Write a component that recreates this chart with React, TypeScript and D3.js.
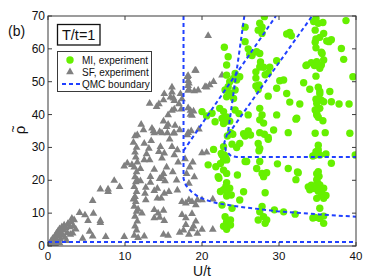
import * as d3 from 'd3';

// SF experiment points [U/t, rho]
const sfPoints: [number, number][] = [
  [0.2, 0.6], [0.4, 1.5], [0.5, 0.8], [0.6, 2.2], [0.8, 1.4], [0.9, 3], [1, 2.2], [1.1, 3.8], [1.2, 1.2],
  [1.3, 4.5], [1.4, 3], [1.5, 5.2], [1.6, 2], [1.7, 4], [1.8, 5.8], [1.9, 3.2], [2, 4.8], [2.1, 6.3],
  [2.2, 2.6], [2.3, 5.5], [2.5, 4], [2.6, 6.8], [2.8, 5.8], [3, 7.2], [0.3, 0.3], [0.7, 0.5], [1.5, 0.9],
  [2.4, 1.6], [1, 0.4], [3.3, 6], [2.9, 3.5],
  [9.9, 24.3], [8.6, 19.9], [7.8, 17.3], [7.8, 16.5], [9.3, 18], [6.8, 17.3], [5.8, 13.8], [4.1, 10.1],
  [4.8, 9.4], [5.9, 9.9], [5.2, 7.7], [6.8, 7.7], [6.8, 7.1], [3.1, 8.4], [3.4, 7.9], [2.6, 6.7], [3.6, 5.1],
  [5.4, 4.4], [3.2, 3.9], [4.5, 2.3], [5.8, 3], [7.5, 2.8], [9.9, 2.8],
  [11.3, 33.5], [11.1, 31.5], [11.5, 30], [11.3, 28.5], [11.4, 27], [11.6, 25.5], [11.2, 24], [11.5, 22.5],
  [11.3, 21], [11.4, 19.5], [11.2, 18], [11.5, 16.5], [11.3, 15], [11.4, 13.5], [11.2, 12], [11.5, 10.5],
  [11.3, 9], [11.6, 7.5], [11.3, 6], [11.5, 4.8], [11.2, 3.2], [11.7, 2.5], [11.6, 20], [11.1, 14.2],
  [11.7, 11.2], [10.9, 24.7], [10.3, 25.2], [12, 23.5], [12, 19.8],
  [12.5, 31.2], [13.1, 29.7], [12.8, 28], [13.2, 26.2], [12.5, 26.2], [13.8, 23.3], [13.3, 21.1], [13.3, 19.3],
  [12.7, 17.8], [13.8, 16.8], [12.6, 16], [12.7, 14], [14.7, 14.5], [14.2, 17.5], [15.1, 16], [15.7, 16.5],
  [14.2, 14.5], [14.5, 20.5], [15, 22], [15.4, 24], [14.8, 21], [15.2, 19.8], [16.8, 17], [14.6, 30.2],
  [14.4, 28.7], [15.1, 28.2], [14.8, 26.7], [16.1, 30.2], [16.8, 29.2], [16.4, 27.7], [13.8, 34.4],
  [14.8, 34.4], [15.5, 34.4], [16.4, 34.4], [11.6, 33.8], [12.4, 35.3], [13.5, 35.8], [14.5, 34.8],
  [15.4, 36.3], [16.3, 34.3], [17.1, 35.3], [15, 38], [15.6, 37], [16.5, 36.7], [13.7, 35], [16.1, 41.2],
  [14.4, 43.2], [15.1, 46.3], [16.1, 46.8], [15.9, 45.3], [16.4, 44.2], [17.2, 46.3], [17.4, 44.7],
  [17, 43.2], [16.1, 48.3], [16.3, 45], [15, 44.4], [13.2, 43.4], [14.1, 42.4], [16.4, 41.6], [17.3, 41.6],
  [15.6, 39.9], [18.2, 51.8], [18.2, 50.3], [18.2, 48.8], [18.2, 47.3], [19.2, 53.4], [18.5, 41.2],
  [18.7, 39.7], [14.3, 10], [14.5, 8.7], [15.1, 7.7], [15, 10.8], [13.8, 8.5], [13.8, 11], [12.2, 10],
  [12.5, 3], [15, 3.5], [15.6, 3.2], [17.1, 4.1], [17.6, 4.8], [18.3, 3.5], [18.7, 5.2], [19.4, 3.8],
  [17.4, 13.5], [17.9, 13], [18.3, 14], [18.7, 13.5], [19.2, 12.5], [19.4, 14], [18.3, 19], [17.4, 9.5],
  [17.9, 8.5], [18.7, 9.8], [19.2, 7.5], [17.9, 6.5], [18.9, 6], [16.2, 22.5], [16.7, 20], [16.9, 25.5],
  [13.4, 32], [15.8, 32.5], [12.1, 37],
  [20.8, 64], [19.1, 53.4], [18.1, 51.5], [18.3, 49.5], [20.6, 48.3], [21.5, 50], [21, 49], [22.6, 52],
  [19.5, 47.4], [19, 47.2], [18.3, 47.6], [18.2, 42], [18.9, 41], [18.5, 40], [19.6, 35.5], [18.6, 35],
  [18.2, 34.5], [18.1, 33.8], [20.4, 48.5],
  [20, 14], [21.4, 14.2], [20, 5], [21.4, 5], [20, 28.3], [20.6, 28.5], [18, 22], [18.4, 24], [18.8, 25.5],
  [19, 21], [17.8, 26.5],
];

// MI experiment points [U/t, rho]
const miPoints: [number, number][] = [
  [28.1, 69.8], [27.5, 67.8], [27.8, 66.6], [27.3, 65.7], [27.8, 64.7], [25.6, 66.6], [34.8, 69.3],
  [34.5, 68.3], [35.1, 67.8], [35.7, 68], [34.7, 65.7], [35.8, 64.7], [38.7, 68.6], [31, 64.5], [31.4, 65],
  [31.6, 64], [34.8, 63], [34.7, 62], [35.3, 63.5], [36.2, 62.4], [36.8, 62.8], [36.5, 62.2], [25.6, 62.2],
  [22.9, 60.5], [34.8, 60.3], [35.5, 59], [35.6, 58.6], [38.1, 60.1], [26, 60], [26.2, 58.3], [26.5, 58],
  [27.1, 59.1], [27.5, 58.6], [23.4, 57.6], [38.4, 56.8], [27.6, 56], [27.5, 54.5], [27, 53], [29.7, 56.4],
  [23.2, 55.1], [33.6, 55.1], [34.2, 55.8], [34.9, 56.1], [35.8, 56.6], [35.5, 55.1], [35.3, 54.1],
  [34.6, 54.9], [33.5, 54.9], [24.3, 52.5], [24.1, 51], [23.2, 52], [23.6, 50], [24.5, 50.5], [24.9, 51.5],
  [28.2, 52.1], [28.6, 52.6], [28.8, 54.4], [28, 54.4], [27, 51.1], [27.4, 49], [30.6, 50.5], [30.1, 50.3],
  [33.2, 49.7], [34.8, 51.7], [39.6, 51.5], [29.7, 48], [34, 47.7], [35.1, 48.3], [35.3, 47], [36.6, 47],
  [23.4, 48.5], [23.6, 46.5], [23.2, 45.4], [24.1, 44.9], [24.3, 47.5], [23, 47.5], [27, 48.7], [27.3, 47.6],
  [28.6, 45.6], [31, 46.4], [31.4, 43.8], [32.7, 43.2], [34.9, 43.4], [35.5, 44.4], [35.8, 43.9],
  [35.3, 41.9], [34.9, 40.4], [34.7, 41.4], [36.8, 43.9], [37.8, 43.2], [39.1, 43.2], [35.3, 46.3],
  [34.8, 44.7], [20, 40.9], [20.6, 39.6], [21.3, 40.4], [21.7, 37.8], [22.3, 41.9], [22.8, 40.9],
  [23.2, 39.3], [22.6, 38.8], [23, 37.8], [23.6, 38], [24.3, 41.4], [24.8, 40.3], [26, 39.9], [27.5, 41.9],
  [27.8, 39.9], [27.5, 38.4], [28, 37.4], [29.7, 39.9], [32.3, 38.9], [34.9, 39.9], [35.1, 39.2],
  [35.7, 38.1], [32.2, 38.6], [22.8, 37.3], [23.7, 34.5], [23.3, 33.5], [25.6, 33.5], [27.5, 34.5],
  [28.1, 34], [29.3, 35.3], [31.2, 34.5], [36, 34.5], [39.2, 34.3], [34.7, 34.3],
  [24, 34], [25.4, 34.2], [26, 35], [27.3, 31.2], [27.5, 29.7], [27.4, 29], [28.6, 32.5], [23.9, 31],
  [24.5, 30], [24.9, 31.2], [21.5, 29.4], [22.8, 30.2], [22.6, 27.7], [23, 27.2], [23.2, 26.2], [22.8, 26.2],
  [20.8, 24.7], [21.8, 24.1], [22.4, 25.1], [22.8, 23.1], [23.2, 22.1], [22.2, 20.6], [22.4, 16.6],
  [23.2, 19.3], [23.4, 15.7], [23.2, 15.2], [23.8, 15.5], [24.6, 21.6], [24.9, 14], [25.6, 25.7],
  [27.1, 23.6], [28, 21.1], [27.8, 22.1], [28.4, 22.3], [28.2, 16.2], [29.8, 25], [31.2, 23.6], [32.4, 22.5],
  [32.2, 20.2], [34.2, 18.5], [34.6, 17.5], [34.7, 27.7], [34.9, 28.4], [35.1, 29.2], [35.3, 27.7],
  [34.9, 22], [35.2, 21.2], [34.9, 20.2], [35, 19.3], [35.3, 18.6], [35.2, 17.3], [35.5, 16.5], [35.8, 17.6],
  [34.9, 14.5], [35.8, 14.5], [36.1, 15.4], [35.5, 15.7], [36.8, 25.2], [39.9, 27.7], [35.3, 11.5],
  [34.7, 8.7], [35.3, 8.4], [35.8, 9.1], [35.8, 6.9], [32.1, 9.7], [27.8, 12], [27.5, 10.4], [28, 8.9],
  [27.3, 7.9], [28.4, 7.9], [28.2, 6.9], [29.4, 11], [30.6, 10.4], [22.6, 12.5], [23.9, 11.5], [23, 8.9],
  [23.7, 7.9], [23.2, 7.4], [23.7, 6.4], [23.2, 5.1], [22.8, 6], [26.3, 33.8], [28.6, 33], [25.4, 16.5],
  [22.1, 21.1], [23.1, 18.1], [22.8, 17.1], [23.6, 17.6], [22.5, 28.2], [22.9, 27.7], [23.1, 26.7],
  [35.1, 30.7], [34.8, 28.7], [34.4, 27.4], [36.1, 28], [32.5, 22.3], [33.8, 18], [34, 17.1], [35.1, 16.7],
  [35.1, 22.6], [34.4, 8.5], [25.8, 25.7], [27.5, 25.7],
];

// QMC boundary lines [U/t, rho]
const qmcBottom: [number, number][] = [[0, 1.2], [40, 1.2]];
const qmcLeft: [number, number][] = [
  [17.6, 70], [17.6, 20.5], [17.9, 18.5], [18.6, 16.6], [19.5, 15], [20.5, 14], [22, 13], [25, 11.9],
  [29.7, 10.6], [35.3, 9.6], [40, 8.9],
];
const qmcMid: [number, number][] = [
  [25.5, 70], [23.4, 35], [22.9, 31.5], [23.1, 29], [23.8, 27.3], [24.5, 27.1], [40, 27.1],
];
const qmcDiag1: [number, number][] = [[17.6, 29], [29.6, 70]];
const qmcDiag2: [number, number][] = [[23.4, 34], [34.3, 70]];

const xTicks = [0, 10, 20, 30, 40];
const yTicks = [0, 10, 20, 30, 40, 50, 60, 70];

const GREEN = '#66f000';
const GRAY = '#808080';
const BLUE = '#2040ff';
const AXIS = '#3a3a3a';
const FONT = '"Liberation Sans", Arial, sans-serif';

export default function App() {
  const x = d3.scaleLinear().domain([0, 40]).range([48, 356]);
  const y = d3.scaleLinear().domain([0, 70]).range([246, 16]);
  const line = d3.line<[number, number]>().x(d => x(d[0])).y(d => y(d[1]));
  const tri = d3.symbol(d3.symbolTriangle, 26)() as string;

  const boundaries = [qmcBottom, qmcLeft, qmcMid, qmcDiag1, qmcDiag2];

  return (
    <svg width={374} height={279} style={{ position: 'absolute', left: 0, top: 0, background: '#fff' }}
      fontFamily={FONT}>
      <defs>
        <clipPath id="plot">
          <rect x={48} y={16} width={308} height={230} />
        </clipPath>
      </defs>
      <rect x={0} y={0} width={374} height={279} fill="#fff" />

      <g clipPath="url(#plot)">
        {sfPoints.map((d, i) => (
          <path key={'s' + i} d={tri} transform={`translate(${x(d[0])},${y(d[1])})`} fill={GRAY} />
        ))}
        {miPoints.map((d, i) => (
          <circle key={'m' + i} cx={x(d[0])} cy={y(d[1])} r={3.7} fill={GREEN} />
        ))}
        {boundaries.map((b, i) => (
          <path key={'b' + i} d={line(b) as string} fill="none" stroke={BLUE} strokeWidth={2}
            strokeDasharray="4,3" />
        ))}
      </g>

      {/* frame */}
      <rect x={48} y={16} width={308} height={230} fill="none" stroke={AXIS} strokeWidth={1} />
      {xTicks.map(t => (
        <g key={'x' + t}>
          <line x1={x(t)} x2={x(t)} y1={246} y2={242} stroke={AXIS} />
          <line x1={x(t)} x2={x(t)} y1={16} y2={20} stroke={AXIS} />
          <text x={x(t)} y={259.5} textAnchor="middle" fontSize={11.5} fill="#111">{t}</text>
        </g>
      ))}
      {yTicks.map(t => (
        <g key={'y' + t}>
          <line x1={48} x2={52} y1={y(t)} y2={y(t)} stroke={AXIS} />
          <line x1={356} x2={352} y1={y(t)} y2={y(t)} stroke={AXIS} />
          <text x={45} y={y(t) + 4} textAnchor="end" fontSize={12} fill="#111">{t}</text>
        </g>
      ))}
      <text x={202} y={276} textAnchor="middle" fontSize={14} fill="#111">U/t</text>
      <g transform="translate(25,130) rotate(-90)" fill="#111">
        <text x={0} y={0} textAnchor="middle" fontSize={15}>{'\u03C1'}</text>
        <text x={1} y={-8} textAnchor="middle" fontSize={12}>~</text>
      </g>
      <text x={8} y={36} fontSize={14} fill="#111">(b)</text>

      {/* T/t=1 box */}
      <rect x={57.5} y={24.5} width={42.5} height={20.5} fill="#fff" stroke="#111" strokeWidth={1.3} />
      <text x={78.7} y={40} textAnchor="middle" fontSize={14.5} fill="#111">T/t=1</text>

      {/* legend */}
      <rect x={57.5} y={51.5} width={94} height={40} fill="#fff" stroke={AXIS} strokeWidth={1} />
      <circle cx={70} cy={60} r={3.7} fill={GREEN} />
      <text x={82} y={63.5} fontSize={10} fill="#111">MI, experiment</text>
      <path d={tri} transform="translate(70,72)" fill={GRAY} />
      <text x={82} y={75.5} fontSize={10} fill="#111">SF, experiment</text>
      <line x1={62} x2={80} y1={84} y2={84} stroke={BLUE} strokeWidth={2} strokeDasharray="4,3" />
      <text x={82} y={87.5} fontSize={10} fill="#111">QMC boundary</text>
    </svg>
  );
}
